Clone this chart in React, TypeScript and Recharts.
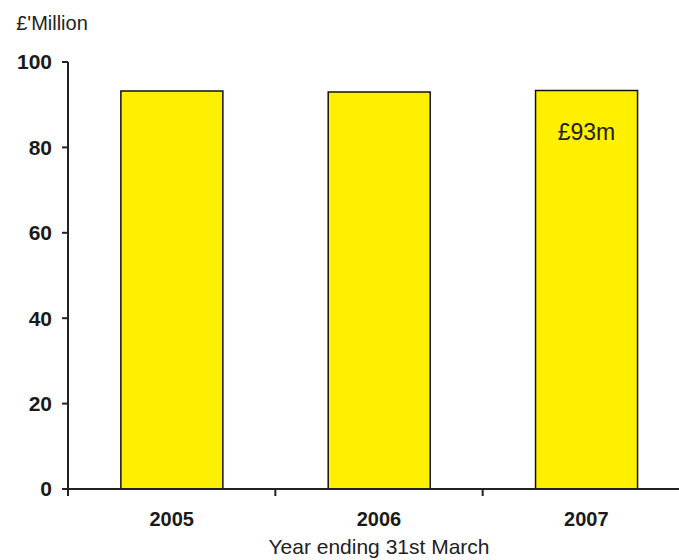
import { BarChart, Bar, XAxis, YAxis, LabelList } from "recharts";

const years = ["2005", "2006", "2007"];
const spend = [93.2, 93.0, 93.3];
const barLabels = [undefined, undefined, "£93m"];
const yTicks = [0, 20, 40, 60, 80, 100];

const data = years.map((year, i) => ({
  year,
  value: spend[i],
  label: barLabels[i],
}));

const font = "'Liberation Sans', Arial, sans-serif";

// year label plus tick marks on the band edges (the old chart puts them between bars)
function YearTick(props: any) {
  const { x, y, payload, index } = props;
  const half = payload.offset || 0;
  const axisY = y - 23;
  const edges = [x - half];
  if (index === years.length - 1) edges.push(x + half);
  return (
    <g>
      {edges.map((ex, i) => (
        <line key={i} x1={ex} x2={ex} y1={axisY} y2={axisY + 7} stroke="#222" strokeWidth={2} />
      ))}
      <text
        x={x}
        y={y}
        dy="0.71em"
        textAnchor="middle"
        fill="#1a1a1a"
        fontSize={20}
        fontWeight="bold"
        fontFamily={font}
      >
        {payload.value}
      </text>
    </g>
  );
}

export default function App() {
  return (
    <div
      style={{
        position: "fixed",
        left: 0,
        top: 0,
        width: 679,
        height: 560,
        overflow: "hidden",
        background: "#fff",
      }}
    >
      <BarChart
        width={700}
        height={560}
        data={data}
        margin={{ top: 62, right: 10, bottom: 0, left: 0 }}
        barCategoryGap="25.5%"
      >
        <XAxis
          dataKey="year"
          height={71}
          axisLine={{ stroke: "#222", strokeWidth: 2 }}
          tickLine={false}
          tickSize={6}
          tickMargin={17}
          tick={<YearTick />}
          label={{
            value: "Year ending 31st March",
            position: "insideBottom",
            offset: 6,
            fill: "#222",
            fontSize: 21,
            fontFamily: font,
          }}
        />
        <YAxis
          width={68}
          domain={[0, 100]}
          ticks={yTicks}
          axisLine={{ stroke: "#222", strokeWidth: 2 }}
          tickLine={{ stroke: "#222", strokeWidth: 2 }}
          tickSize={6}
          tickMargin={10}
          tick={{ fill: "#1a1a1a", fontSize: 21, fontWeight: "bold", fontFamily: font }}
          label={{
            value: "£'Million",
            position: "top",
            offset: 32,
            dx: 18,
            fill: "#222",
            fontSize: 20,
            fontFamily: font,
          }}
        />
        <Bar
          dataKey="value"
          fill="#FFF000"
          stroke="#111"
          strokeWidth={1.5}
          isAnimationActive={false}
        >
          <LabelList
            dataKey="label"
            position="insideTop"
            offset={33}
            fill="#222"
            fontSize={23}
            fontFamily={font}
          />
        </Bar>
      </BarChart>
    </div>
  );
}
